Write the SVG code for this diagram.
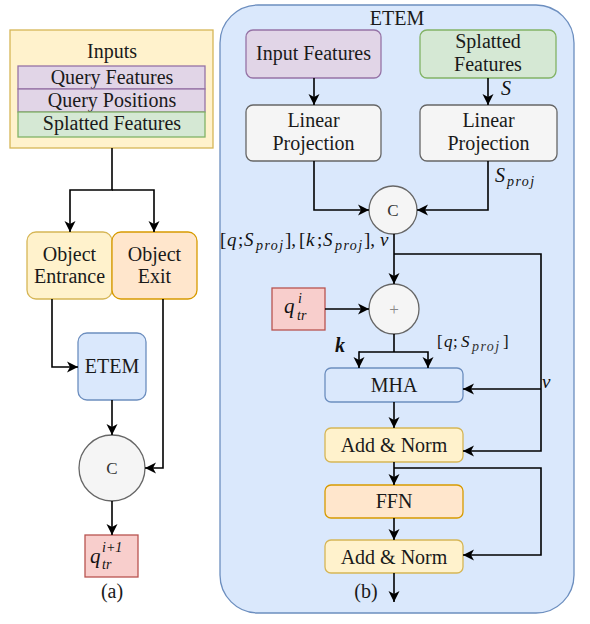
<svg xmlns="http://www.w3.org/2000/svg" width="590" height="624" viewBox="0 0 590 624">
<defs>
<marker id="arr" markerUnits="userSpaceOnUse" markerWidth="12" markerHeight="12" refX="11" refY="5.5" orient="auto" overflow="visible">
<path d="M0,0 L11,5.5 L0,11 L3,5.5 z" fill="#000"/>
</marker>
<style>
text{font-family:'Liberation Serif','DejaVu Serif',serif}
.t{font-size:20px;fill:#1a1a1a;text-anchor:middle}
.m{font-style:italic;fill:#111}
.r{fill:#111}
.sb{font-style:italic;letter-spacing:1.4px}
.c{fill:none;stroke:#000;stroke-width:1.6}
.ca{fill:none;stroke:#000;stroke-width:1.6;marker-end:url(#arr)}
.yel{fill:#fff2cc;stroke:#d6b656;stroke-width:1.3}
.pur{fill:#e1d5e7;stroke:#9673a6;stroke-width:1.3}
.grn{fill:#d5e8d4;stroke:#82b366;stroke-width:1.3}
.org{fill:#ffe6cc;stroke:#d79b00;stroke-width:1.3}
.blu{fill:#dae8fc;stroke:#6c8ebf;stroke-width:1.3}
.gry{fill:#f5f5f5;stroke:#666666;stroke-width:1.3}
.red{fill:#f8cecc;stroke:#b85450;stroke-width:1.3}
</style>
</defs>
<rect width="590" height="624" fill="#ffffff"/>

<!-- Panel (b) container -->
<g id="etem-container">
<rect x="220" y="5" width="354" height="608" rx="38" class="blu"/>
<text class="t" x="397" y="25">ETEM</text>
</g>

<!-- Panel (a) nodes -->
<g id="inputs">
<rect x="10" y="30" width="203" height="118" class="yel"/>
<text class="t" x="112" y="58">Inputs</text>
<rect x="18" y="66" width="187" height="23" class="pur"/>
<text class="t" x="112" y="84">Query Features</text>
<rect x="18" y="89" width="187" height="23" class="pur"/>
<text class="t" x="112" y="107">Query Positions</text>
<rect x="18" y="112" width="187" height="25" class="grn"/>
<text class="t" x="112" y="130">Splatted Features</text>
</g>
<g id="object-entrance">
<rect x="27" y="232" width="85" height="67" rx="9" class="yel"/>
<text class="t" x="69.5" y="261">Object</text>
<text class="t" x="69.5" y="283">Entrance</text>
</g>
<g id="object-exit">
<rect x="112" y="232" width="85" height="67" rx="9" class="org"/>
<text class="t" x="154.5" y="261">Object</text>
<text class="t" x="154.5" y="283">Exit</text>
</g>
<g id="etem-a">
<rect x="78" y="333" width="68" height="67" rx="9" class="blu"/>
<text class="t" x="112" y="373">ETEM</text>
</g>
<g id="concat-a">
<circle cx="112" cy="468" r="33" class="gry"/>
<text class="t" x="112" y="474" style="fill:#333;font-size:17px">C</text>
</g>
<g id="q-next">
<rect x="85" y="535" width="53" height="42" class="red"/>
<text class="m" x="90" y="563" font-size="21">q</text>
<text class="m" x="102" y="552" font-size="14">i<tspan class="r">+1</tspan></text>
<text class="m" x="102" y="569" font-size="14">tr</text>
</g>
<text class="t" x="112" y="598">(a)</text>

<!-- Panel (b) nodes -->
<g id="input-features">
<rect x="246" y="30" width="135" height="48" rx="7" class="pur"/>
<text class="t" x="313.5" y="60">Input Features</text>
</g>
<g id="splatted-features">
<rect x="420" y="30" width="136" height="48" rx="7" class="grn"/>
<text class="t" x="488" y="48">Splatted</text>
<text class="t" x="488" y="71">Features</text>
</g>
<g id="linproj-left">
<rect x="246" y="105" width="135" height="56" rx="7" class="gry"/>
<text class="t" x="313.5" y="127">Linear</text>
<text class="t" x="313.5" y="150">Projection</text>
</g>
<g id="linproj-right">
<rect x="420" y="105" width="137" height="56" rx="7" class="gry"/>
<text class="t" x="488.5" y="127">Linear</text>
<text class="t" x="488.5" y="150">Projection</text>
</g>
<g id="concat-b">
<circle cx="393" cy="210" r="24" class="gry"/>
<text class="t" x="393" y="216" style="fill:#333;font-size:17px">C</text>
</g>
<g id="plus">
<circle cx="394" cy="309" r="25" class="gry"/>
<text class="t" x="394" y="315" style="fill:#888;font-size:17px">+</text>
</g>
<g id="q-tr-i">
<rect x="272" y="288" width="53" height="42" class="red"/>
<text class="m" x="284" y="313" font-size="21">q</text>
<text class="m" x="298" y="303" font-size="14">i</text>
<text class="m" x="297" y="320" font-size="14">tr</text>
</g>
<g id="mha">
<rect x="325" y="368" width="138" height="34" rx="6" class="blu"/>
<text class="t" x="394" y="392">MHA</text>
</g>
<g id="addnorm1">
<rect x="325" y="428" width="138" height="34" rx="6" class="yel"/>
<text class="t" x="394" y="452">Add &amp; Norm</text>
</g>
<g id="ffn">
<rect x="325" y="485" width="138" height="33" rx="6" class="org"/>
<text class="t" x="394" y="508">FFN</text>
</g>
<g id="addnorm2">
<rect x="325" y="540" width="138" height="33" rx="6" class="yel"/>
<text class="t" x="394" y="564">Add &amp; Norm</text>
</g>
<text class="t" x="366" y="598">(b)</text>

<!-- Connectors -->
<g id="connectors">
<path class="ca" d="M112,148 V190 H70 V232"/>
<path class="ca" d="M112,190 H154 V232"/>
<path class="ca" d="M52,299 V367 H78"/>
<path class="ca" d="M112,400 V435"/>
<path class="ca" d="M163,299 V468 H145"/>
<path class="ca" d="M112,501 V535"/>

<path class="ca" d="M314,78 V105"/>
<path class="ca" d="M488,78 V105"/>
<path class="ca" d="M314,161 V210 H369"/>
<path class="ca" d="M488,161 V210 H417"/>
<path class="ca" d="M394,234 V284"/>
<path class="ca" d="M394,254 H541 V451 H463"/>
<path class="ca" d="M541,389 H463"/>
<path class="ca" d="M325,309 H369"/>
<path class="c" d="M394,334 V352"/>
<path class="ca" d="M359,352 H428 V368"/>
<path class="ca" d="M359,351.2 V368"/>
<path class="ca" d="M394,402 V428"/>
<path class="ca" d="M394,462 V485"/>
<path class="ca" d="M394,468 H541 V555 H463"/>
<path class="ca" d="M394,518 V540"/>
<path class="ca" d="M394,573 V602"/>
</g>

<!-- Connector labels -->
<g id="labels">
<text class="m" x="501" y="95" font-size="20">S</text>
<text class="m" y="182" font-size="20"><tspan x="495">S</tspan><tspan class="sb" font-size="14" x="507" dy="4">proj</tspan></text>
<text class="r" y="246" font-size="19"><tspan x="220">[</tspan><tspan class="m" x="227">q</tspan><tspan x="238">;</tspan><tspan class="m" x="244">S</tspan><tspan class="sb" font-size="14" x="256" dy="4">proj</tspan><tspan x="285" dy="-4">],</tspan><tspan x="299">[</tspan><tspan class="m" x="306">k</tspan><tspan x="317">;</tspan><tspan class="m" x="323">S</tspan><tspan class="sb" font-size="14" x="335" dy="4">proj</tspan><tspan x="364" dy="-4">],</tspan><tspan class="m" x="380">v</tspan></text>
<text class="m" x="335" y="352" font-size="20" font-weight="bold">k</text>
<text class="r" y="347" font-size="17" fill="#333"><tspan x="437">[</tspan><tspan class="m" x="444" fill="#333">q</tspan><tspan x="453">;</tspan><tspan class="m" x="461" fill="#333">S</tspan><tspan class="sb" font-size="14" x="472" dy="4" fill="#333">proj</tspan><tspan x="503" dy="-4">]</tspan></text>
<text class="m" x="542" y="388" font-size="19">v</text>
</g>
</svg>
